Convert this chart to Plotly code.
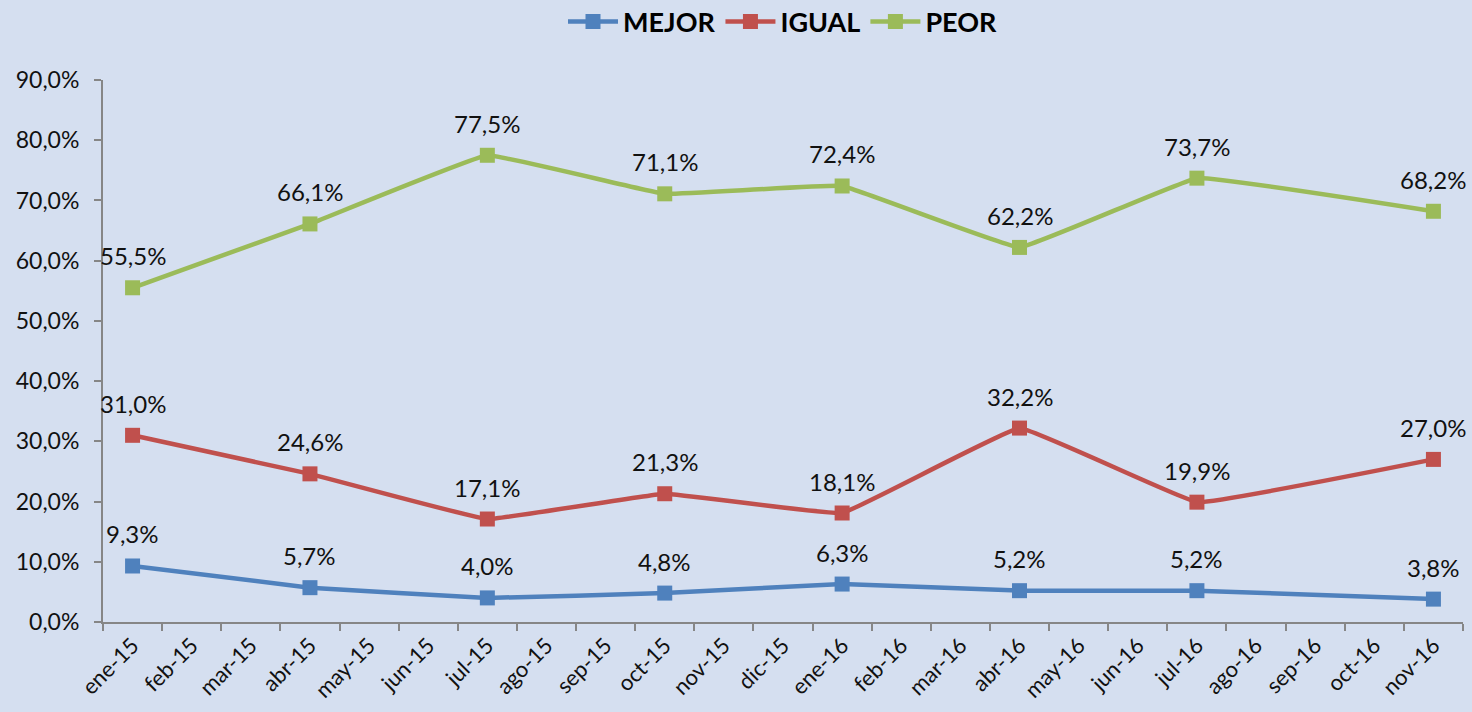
import plotly.graph_objects as go

months = ["ene-15", "feb-15", "mar-15", "abr-15", "may-15", "jun-15", "jul-15", "ago-15",
          "sep-15", "oct-15", "nov-15", "dic-15", "ene-16", "feb-16", "mar-16", "abr-16",
          "may-16", "jun-16", "jul-16", "ago-16", "sep-16", "oct-16", "nov-16"]
survey_dates = ["ene-15", "abr-15", "jul-15", "oct-15", "ene-16", "abr-16", "jul-16", "nov-16"]
mejor = [9.3, 5.7, 4.0, 4.8, 6.3, 5.2, 5.2, 3.8]
igual = [31.0, 24.6, 17.1, 21.3, 18.1, 32.2, 19.9, 27.0]
peor = [55.5, 66.1, 77.5, 71.1, 72.4, 62.2, 73.7, 68.2]
y_ticks = [0, 10, 20, 30, 40, 50, 60, 70, 80, 90]

series = [("MEJOR", mejor, "#4f81bd"), ("IGUAL", igual, "#c0504d"), ("PEOR", peor, "#9bbb59")]

def fmt(v):
    return f"{v:.1f}".replace(".", ",") + "%"

fig = go.Figure()
annotations = []
for name, vals, col in series:
    fig.add_trace(go.Scatter(
        x=survey_dates, y=vals, name=name, mode="lines+markers",
        line=dict(color=col, width=4.5, shape="spline", smoothing=0.2),
        marker=dict(symbol="square", size=15, color=col),
    ))
    for xv, yv in zip(survey_dates, vals):
        annotations.append(dict(x=xv, y=yv, text=fmt(yv), showarrow=False,
                                yshift=32, font=dict(size=24, color="#111111")))

bg = "#d5dff0"
fig.update_layout(
    width=1472, height=712,
    paper_bgcolor=bg, plot_bgcolor=bg,
    margin=dict(l=103, r=9, t=80, b=90),
    font=dict(family="Lato, 'Open Sans', sans-serif", color="#111111"),
    showlegend=True,
    legend=dict(orientation="h", x=0.5, xanchor="center", y=1 - 22 / 712, yref="container",
                yanchor="middle", font=dict(size=27, family="Lato", color="#000000", weight="bold"),
                bgcolor="rgba(0,0,0,0)", tracegroupgap=0, itemwidth=50),
    annotations=annotations,
)
fig.update_xaxes(
    type="category", categoryorder="array", categoryarray=months,
    range=[-0.5, len(months) - 0.5],
    tickmode="array", tickvals=months, ticktext=months,
    tickangle=-45, tickfont=dict(size=22),
    tickson="boundaries", ticks="outside", ticklen=7, tickcolor="#868686", tickwidth=2,
    showline=True, linecolor="#868686", linewidth=2, showgrid=False, zeroline=False,
    automargin=False,
)
fig.update_yaxes(
    range=[0, 90], tickmode="array", tickvals=y_ticks,
    ticktext=[fmt(v) for v in y_ticks], tickfont=dict(size=23),
    ticks="outside", ticklen=7, tickcolor="#868686", tickwidth=2, ticklabelstandoff=10,
    showline=True, linecolor="#868686", linewidth=2, showgrid=False, zeroline=False,
    automargin=False,
)
fig.write_html("out.html", config={"displayModeBar": False},
               post_script="document.body.style.margin='0';document.body.style.overflow='hidden';")
